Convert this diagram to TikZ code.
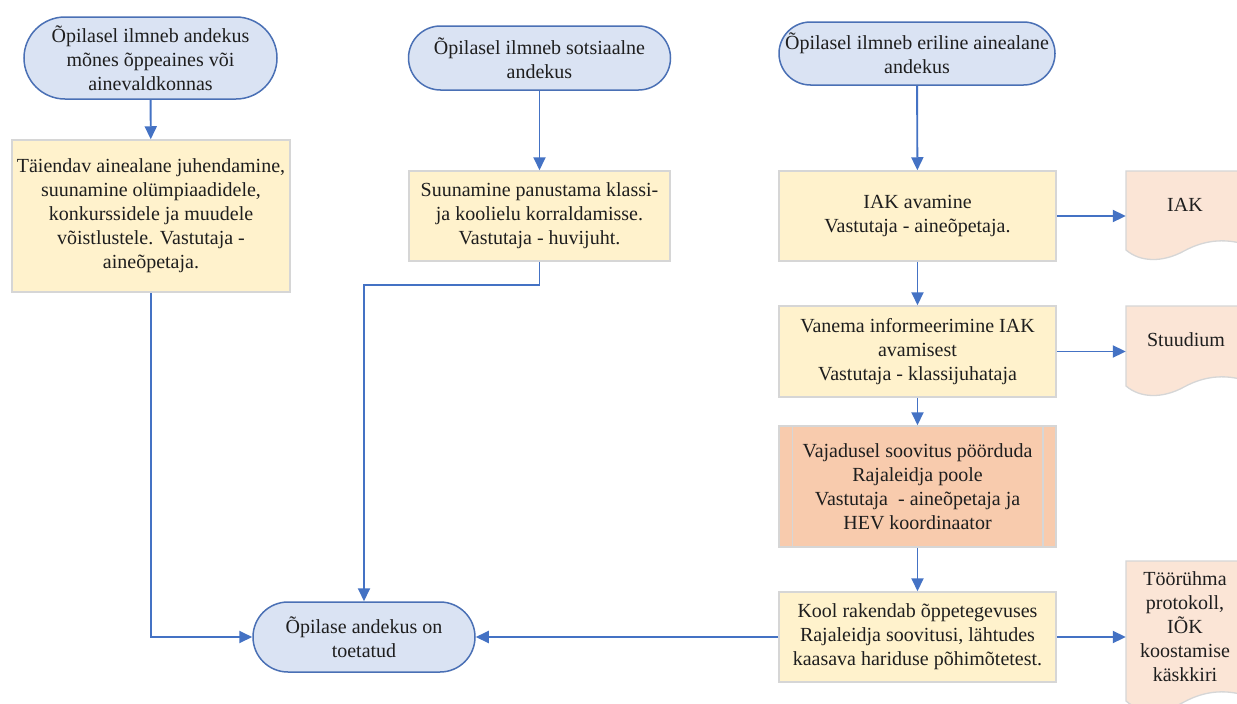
\documentclass[tikz,border=0pt]{standalone}
\usepackage{fontspec}
\setmainfont{Liberation Serif}
\usetikzlibrary{arrows.meta}
\definecolor{termfill}{HTML}{DAE3F3}
\definecolor{termline}{HTML}{4A70B5}
\definecolor{boxfill}{HTML}{FFF2CC}
\definecolor{boxline}{HTML}{D6D6D6}
\definecolor{procfill}{HTML}{F8CBAD}
\definecolor{docfill}{HTML}{FBE5D6}
\definecolor{arrowblue}{HTML}{4472C4}
\definecolor{txt}{HTML}{1E1E1E}
\begin{document}
\begin{tikzpicture}[x=1pt,y=-1pt,
 every node/.style={font=\fontsize{20}{24}\selectfont, text=txt, align=center, inner sep=0pt},
 term/.style={draw=termline, fill=termfill, line width=1.5pt, rectangle},
 stepbox/.style={draw=boxline, fill=boxfill, line width=1.5pt, rectangle},
 procbox/.style={draw=boxline, fill=procfill, line width=1.5pt, rectangle},
 docbox/.style={draw=none, rectangle, minimum width=124pt},
 docshape/.style={draw=boxline, fill=docfill, line width=1.3pt},
 conn/.style={draw=arrowblue, line width=1.9pt, -{Triangle[length=13pt,width=12pt]}},
]
\path[use as bounding box, fill=white] (0,0) rectangle (1237,704);

% document shapes (cut by the picture's edge)
\begin{scope}
\clip (0,0) rectangle (1237,704);
\path[docshape] (1126,171) -- (1126,250) .. controls (1140,262) and (1162,263) .. (1184,251) .. controls (1206,239) and (1228,238) .. (1250,246) -- (1250,171) -- cycle;
\path[docshape] (1126,306) -- (1126,386) .. controls (1140,398) and (1162,399) .. (1184,387) .. controls (1206,375) and (1228,374) .. (1250,382) -- (1250,306) -- cycle;
\path[docshape] (1126,561) -- (1126,701) .. controls (1140,713) and (1162,714) .. (1184,702) .. controls (1206,690) and (1228,689) .. (1250,697) -- (1250,561) -- cycle;
\end{scope}
\node[docbox, minimum height=89pt] (iak) at (1188,215.5) {};
\node[docbox, minimum height=91pt] (stu) at (1188,351.5) {};
\node[docbox, minimum height=150pt] (tor) at (1188,636) {};
\node (iakt) at (1185,205) {IAK};
\node (stut) at (1186,340) {Stuudium};
\node (tort) at (1185,627) {Töörühma\\ protokoll,\\ IÕK\\ koostamise\\ käskkiri};

% terminators
\node[term, minimum width=253pt, minimum height=82pt, rounded corners=41pt] (A) at (150.5,58) {Õpilasel ilmneb andekus\\ mõnes õppeaines või\\ ainevaldkonnas};
\node[term, minimum width=262pt, minimum height=64pt, rounded corners=32pt] (B) at (539.5,58) {Õpilasel ilmneb sotsiaalne\\ andekus};
\node[term, minimum width=276pt, minimum height=63pt, rounded corners=31.5pt] (C) at (917,53.5) {Õpilasel ilmneb eriline ainealane\\ andekus};
\node[term, minimum width=222pt, minimum height=70pt, rounded corners=35pt] (End) at (364,637) {Õpilase andekus on\\ toetatud};

% process boxes
\node[stepbox, minimum width=278pt, minimum height=152pt] (A2) at (151,216) {Täiendav ainealane juhendamine,\\ suunamine olümpiaadidele,\\ konkurssidele ja muudele\\ võistlustele. Vastutaja -\\ aineõpetaja.};
\node[stepbox, minimum width=261pt, minimum height=90pt] (B2) at (539.5,216) {Suunamine panustama klassi-\\ ja koolielu korraldamisse.\\ Vastutaja - huvijuht.};
\node[stepbox, minimum width=277pt, minimum height=90pt] (C2) at (917.5,216) {IAK avamine\\ Vastutaja - aineõpetaja.};
\node[stepbox, minimum width=277pt, minimum height=91pt] (C3) at (917.5,351.5) {Vanema informeerimine IAK\\ avamisest\\ Vastutaja - klassijuhataja};
\node[procbox, minimum width=277pt, minimum height=121pt] (C4) at (917.5,486.5) {Vajadusel soovitus pöörduda\\ Rajaleidja poole\\ Vastutaja~ - aineõpetaja ja\\ HEV koordinaator};
\draw[boxline, line width=1.5pt] ([xshift=14pt]C4.north west) -- ([xshift=14pt]C4.south west);
\draw[boxline, line width=1.5pt] ([xshift=-14pt]C4.north east) -- ([xshift=-14pt]C4.south east);
\node[stepbox, minimum width=277pt, minimum height=90pt] (C5) at (917.5,637) {Kool rakendab õppetegevuses\\ Rajaleidja soovitusi, lähtudes\\ kaasava hariduse põhimõtetest.};

% connectors
\draw[conn] (A) -- (A2);
\draw[conn] (A2.south) |- (End.west);
\draw[conn] (B) -- (B2);
\draw[conn] (B2.south) -- ++(0,23) -| (End.north);
\draw[conn] (C) -- (C2);
\draw[conn] (C2) -- (C3);
\draw[conn] (C3) -- (C4);
\draw[conn] (C4) -- (C5);
\draw[conn] (C2.east) -- (C2.east -| iak.west);
\draw[conn] (C3.east) -- (C3.east -| stu.west);
\draw[conn] (C5.east) -- (C5.east -| tor.west);
\draw[conn] (C5.west) -- (End.east);
\end{tikzpicture}
\end{document}
